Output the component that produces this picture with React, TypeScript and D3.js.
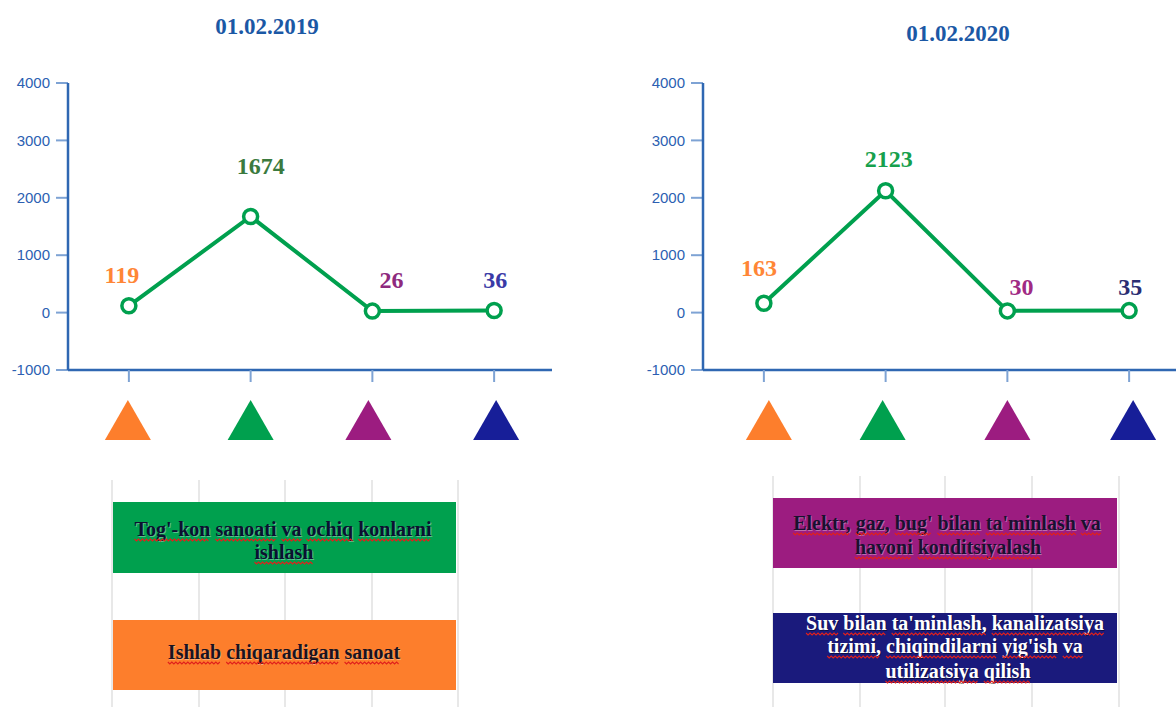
import React, { useEffect, useRef } from "react";
import * as d3 from "d3";

// ---------- data ----------
const categories = [
  "Ishlab chiqaradigan sanoat",
  "Tog'-kon sanoati va ochiq konlarni ishlash",
  "Elektr, gaz, bug' bilan ta'minlash va havoni konditsiyalash",
  "Suv bilan ta'minlash, kanalizatsiya tizimi, chiqindilarni yig'ish va utilizatsiya qilish",
];
const values2019 = [119, 1674, 26, 36];
const values2020 = [163, 2123, 30, 35];
const titles = ["01.02.2019", "01.02.2020"];
const yTicks = [-1000, 0, 1000, 2000, 3000, 4000];
const categoryColors = ["#fd7e2c", "#00a04e", "#9c1c80", "#171e98"];
const labelColors2019 = ["#ff8636", "#3b7a3e", "#8e2a7e", "#3a3aa6"];
const labelColors2020 = ["#ff8636", "#16a04c", "#a02a84", "#2b2d72"];

// legend boxes (category index + wrapped lines)
const legendLeft = [
  { cat: 1, lines: ["Tog'-kon sanoati va ochiq konlarni", "ishlash"] },
  { cat: 0, lines: ["Ishlab chiqaradigan sanoat"] },
];
const legendRight = [
  { cat: 2, lines: ["Elektr, gaz, bug' bilan ta'minlash va", "havoni konditsiyalash"] },
  { cat: 3, lines: ["Suv bilan ta'minlash, kanalizatsiya", "tizimi, chiqindilarni yig'ish va", "utilizatsiya qilish"] },
];

// ---------- layout ----------
const W = 1176;
const H = 707;
const panels = [
  {
    values: values2019,
    labelColors: labelColors2019,
    title: titles[0],
    titleX: 267,
    titleY: 34,
    axisX: 68,
    xEnd: 552,
    labelOffsets: [[-7, -23], [10, -43], [19, -23], [1, -23]],
    triOffsets: [-1, 0, -4, 2],
    legend: legendLeft,
    boxX: 113,
    boxW: 343,
    boxes: [
      { y: 502, h: 71, textY: [536, 559], textX: [283, 284], textColor: "#0d1030" },
      { y: 620, h: 70, textY: [659], textX: [284], textColor: "#1a1420" },
    ],
    grid: [112, 199, 285, 372, 458],
    gridTop: 480,
  },
  {
    values: values2020,
    labelColors: labelColors2020,
    title: titles[1],
    titleX: 958,
    titleY: 41,
    axisX: 703,
    xEnd: 1176,
    labelOffsets: [[-5, -27], [3, -24], [14, -16], [1, -16]],
    triOffsets: [5, -3, 0, 4],
    legend: legendRight,
    boxX: 773,
    boxW: 344,
    boxes: [
      { y: 498, h: 70, textY: [530, 554], textX: [947, 948], textColor: "#1a1030" },
      { y: 613, h: 70, textY: [630, 653, 678], textX: [955, 955, 958], textColor: "#ffffff" },
    ],
    grid: [773, 860, 945, 1032, 1119],
    gridTop: 476,
  },
];

function wavyPath(x0: number, x1: number, y: number) {
  const pts: [number, number][] = [];
  let up = true;
  for (let x = x0; x <= x1; x += 2) {
    pts.push([x, up ? y - 1 : y + 1]);
    up = !up;
  }
  return d3.line()(pts) || "";
}

export default function App() {
  const ref = useRef<SVGSVGElement | null>(null);

  useEffect(() => {
    document.body.style.margin = "0";
    const svg = d3.select(ref.current);
    svg.selectAll("*").remove();

    const y = d3.scaleLinear().domain([-1000, 4000]).range([370, 83]);

    panels.forEach((p) => {
      const g = svg.append("g");
      const x = d3
        .scaleBand<number>()
        .domain(d3.range(categories.length))
        .range([p.axisX, p.axisX + 487]);
      const cx = (i: number) => (x(i) as number) + x.bandwidth() / 2;

      // title
      g.append("text")
        .attr("x", p.titleX)
        .attr("y", p.titleY)
        .attr("text-anchor", "middle")
        .attr("font-family", "'Liberation Serif', serif")
        .attr("font-weight", "bold")
        .attr("font-size", 23)
        .attr("fill", "#1b58a5")
        .text(p.title);

      // y ticks
      yTicks.forEach((t) => {
        g.append("line")
          .attr("x1", p.axisX - 12)
          .attr("x2", p.axisX)
          .attr("y1", y(t))
          .attr("y2", y(t))
          .attr("stroke", "#7ea3d4")
          .attr("stroke-width", 2);
        g.append("text")
          .attr("x", p.axisX - 18)
          .attr("y", y(t))
          .attr("dy", "0.35em")
          .attr("text-anchor", "end")
          .attr("font-family", "'Liberation Sans', sans-serif")
          .attr("font-size", 15)
          .attr("fill", "#2c5fb2")
          .text(String(t));
      });

      // axes
      g.append("line")
        .attr("x1", p.axisX)
        .attr("x2", p.axisX)
        .attr("y1", y(4000))
        .attr("y2", y(-1000))
        .attr("stroke", "#2f67b2")
        .attr("stroke-width", 2.5);
      g.append("line")
        .attr("x1", p.axisX)
        .attr("x2", p.xEnd)
        .attr("y1", y(-1000))
        .attr("y2", y(-1000))
        .attr("stroke", "#2f67b2")
        .attr("stroke-width", 2.5);

      // x ticks + triangles
      categories.forEach((_, i) => {
        g.append("line")
          .attr("x1", cx(i))
          .attr("x2", cx(i))
          .attr("y1", y(-1000))
          .attr("y2", y(-1000) + 12)
          .attr("stroke", "#7ea3d4")
          .attr("stroke-width", 2);
        const tx = cx(i) + p.triOffsets[i];
        g.append("path")
          .attr("d", `M${tx},400 L${tx + 23},440 L${tx - 23},440 Z`)
          .attr("fill", categoryColors[i]);
      });

      // line
      const line = d3
        .line<number>()
        .x((_, i) => cx(i))
        .y((v) => y(v));
      g.append("path")
        .attr("d", line(p.values) || "")
        .attr("fill", "none")
        .attr("stroke", "#00a04e")
        .attr("stroke-width", 4);
      p.values.forEach((v, i) => {
        g.append("circle")
          .attr("cx", cx(i))
          .attr("cy", y(v))
          .attr("r", 7)
          .attr("fill", "#ffffff")
          .attr("stroke", "#00a04e")
          .attr("stroke-width", 3.5);
        g.append("text")
          .attr("x", cx(i) + p.labelOffsets[i][0])
          .attr("y", y(v) + p.labelOffsets[i][1])
          .attr("text-anchor", "middle")
          .attr("font-family", "'Liberation Serif', serif")
          .attr("font-weight", "bold")
          .attr("font-size", 24)
          .attr("fill", p.labelColors[i])
          .text(String(v));
      });

      // legend grid lines
      p.grid.forEach((gx) => {
        g.append("line")
          .attr("x1", gx)
          .attr("x2", gx)
          .attr("y1", p.gridTop)
          .attr("y2", H)
          .attr("stroke", "#e8e8e8")
          .attr("stroke-width", 2);
      });

      // legend boxes
      p.legend.forEach((item, bi) => {
        const b = p.boxes[bi];
        g.append("rect")
          .attr("x", p.boxX)
          .attr("y", b.y)
          .attr("width", p.boxW)
          .attr("height", b.h)
          .attr("fill", item.cat === 3 ? "#1a1a7c" : categoryColors[item.cat]);
        item.lines.forEach((ln, li) => {
          const tcx = b.textX[li];
          const ty = b.textY[li];
          const isWhite = b.textColor === "#ffffff";
          // soft shadow
          g.append("text")
            .attr("x", tcx + 1)
            .attr("y", ty + 1)
            .attr("text-anchor", "middle")
            .attr("font-family", "'Liberation Serif', serif")
            .attr("font-weight", "bold")
            .attr("font-size", 20)
            .attr("fill", isWhite ? "rgba(0,0,0,0.45)" : "rgba(255,255,255,0.35)")
            .text(ln);
          const t = g
            .append("text")
            .attr("x", tcx)
            .attr("y", ty)
            .attr("text-anchor", "middle")
            .attr("font-family", "'Liberation Serif', serif")
            .attr("font-weight", "bold")
            .attr("font-size", 20)
            .attr("fill", b.textColor)
            .text(ln);
          const node = t.node() as SVGTextElement;
          // red wavy spell-check underlines under each word
          let pos = 0;
          ln.split(" ").forEach((word) => {
            if (word.length > 0) {
              try {
                const sx = node.getStartPositionOfChar(pos).x;
                const ex = node.getEndPositionOfChar(pos + word.length - 1).x;
                g.append("path")
                  .attr("d", wavyPath(sx, ex, ty + 4))
                  .attr("fill", "none")
                  .attr("stroke", "#e0201c")
                  .attr("stroke-width", 1.1);
              } catch (e) {
                /* ignore */
              }
            }
            pos += word.length + 1;
          });
        });
      });
    });
  }, []);

  return (
    <svg
      ref={ref}
      width={W}
      height={H}
      viewBox={`0 0 ${W} ${H}`}
      style={{ display: "block", background: "#ffffff" }}
    />
  );
}
